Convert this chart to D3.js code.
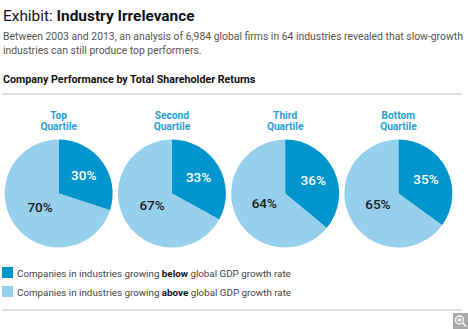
<!DOCTYPE html>
<meta charset="utf-8">
<head>
<title>Industry Irrelevance</title>
</head>
<style>
html, body {
  margin: 0;
  background: #fff;
  overflow: hidden;
}
svg text {
  font-family: Roboto, "Open Sans", sans-serif;
}
.title { font-size: 15.4px; fill: #111; }
.sub { font-size: 10.4px; fill: #555; }
.section { font-size: 10.7px; font-weight: bold; fill: #111; }
.qlabel { font-size: 10.2px; font-weight: bold; fill: #2a9fd6; }
.pct { font-size: 13.5px; font-weight: 500; }
.legend text { font-size: 9.8px; fill: #444; }
</style>
<body>
<script src="https://cdn.jsdelivr.net/npm/d3@7"></script>
<script>

// share of companies per TSR quartile
var quartiles = ["Top", "Second", "Third", "Bottom"];
var below = [30, 33, 36, 35];   // industries growing below global GDP
var above = [70, 67, 64, 65];   // industries growing above global GDP

var seriesNames = ["below", "above"];
var seriesColors = ["#0095cd", "#97d0ec"];

var width = 468, height = 329;

var svg = d3.select("body").append("svg")
    .attr("width", width)
    .attr("height", height);

// header
var title = svg.append("text")
    .attr("class", "title")
    .attr("x", 3)
    .attr("y", 21);
title.append("tspan").text("Exhibit: ");
title.append("tspan").attr("font-weight", "bold").text("Industry Irrelevance");

svg.append("text").attr("class", "sub").attr("x", 3).attr("y", 40)
    .text("Between 2003 and 2013, an analysis of 6,984 global firms in 64 industries revealed that slow-growth");
svg.append("text").attr("class", "sub").attr("x", 3).attr("y", 54)
    .text("industries can still produce top performers.");

svg.append("text").attr("class", "section").attr("x", 3).attr("y", 83)
    .text("Company Performance by Total Shareholder Returns");

svg.append("line")
    .attr("x1", 2).attr("x2", 462)
    .attr("y1", 94).attr("y2", 94)
    .attr("stroke", "#dedede").attr("stroke-width", 2);

// one pie per quartile
var x = d3.scaleBand().domain(quartiles).range([2, 455]);
var radius = 54, cy = 193.5;

var pie = d3.pie().sort(null).value(function (d) { return d.value; });
var arc = d3.arc().innerRadius(0).outerRadius(radius);
var darkLabelArc = d3.arc().innerRadius(31).outerRadius(31);
var lightLabelArc = d3.arc().innerRadius(23).outerRadius(23);

var groups = svg.selectAll("g.quartile")
    .data(quartiles.map(function (q, i) {
        return { name: q, slices: [
            { key: "below", value: below[i] },
            { key: "above", value: above[i] }
        ] };
    }))
    .enter().append("g")
    .attr("class", "quartile")
    .attr("transform", function (d) {
        return "translate(" + (x(d.name) + x.bandwidth() / 2) + "," + cy + ")";
    });

groups.append("text")
    .attr("class", "qlabel")
    .attr("text-anchor", "middle")
    .attr("y", -74.5)
    .text(function (d) { return d.name; });
groups.append("text")
    .attr("class", "qlabel")
    .attr("text-anchor", "middle")
    .attr("y", -63.5)
    .text("Quartile");

var slices = groups.selectAll("g.slice")
    .data(function (d) { return pie(d.slices); })
    .enter().append("g")
    .attr("class", "slice");

slices.append("path")
    .attr("d", arc)
    .attr("fill", function (d, i) { return seriesColors[i]; });

slices.append("text")
    .attr("class", "pct")
    .attr("text-anchor", "middle")
    .attr("dy", "0.35em")
    .attr("transform", function (d, i) {
        var c = (i === 0 ? darkLabelArc : lightLabelArc).centroid(d);
        return "translate(" + c + ")";
    })
    .attr("fill", function (d, i) { return i === 0 ? "#fff" : "#1a1a1a"; })
    .text(function (d) { return d.data.value + "%"; });

// legend
var legend = svg.append("g").attr("class", "legend")
    .selectAll("g")
    .data(seriesNames)
    .enter().append("g")
    .attr("transform", function (d, i) { return "translate(2," + (267 + i * 19) + ")"; });

legend.append("rect")
    .attr("width", 11).attr("height", 11)
    .attr("fill", function (d, i) { return seriesColors[i]; });

var lt = legend.append("text").attr("x", 15).attr("y", 9.5);
lt.append("tspan").text("Companies in industries growing ");
lt.append("tspan").attr("font-weight", "bold").attr("fill", "#111").text(function (d) { return d; });
lt.append("tspan").text(" global GDP growth rate");

svg.append("line")
    .attr("x1", 2).attr("x2", 462)
    .attr("y1", 310).attr("y2", 310)
    .attr("stroke", "#dedede").attr("stroke-width", 2);

// zoom badge
var badge = svg.append("g").attr("transform", "translate(453,313)");
badge.append("rect").attr("width", 15).attr("height", 16).attr("fill", "#a9a9a9");
badge.append("circle").attr("cx", 6.5).attr("cy", 7).attr("r", 4)
    .attr("fill", "none").attr("stroke", "#fff").attr("stroke-width", 1.3);
badge.append("path").attr("d", "M4.5,7H8.5M6.5,5V9M9.5,10L13,13.5")
    .attr("stroke", "#fff").attr("stroke-width", 1.3);

</script>
</body>
